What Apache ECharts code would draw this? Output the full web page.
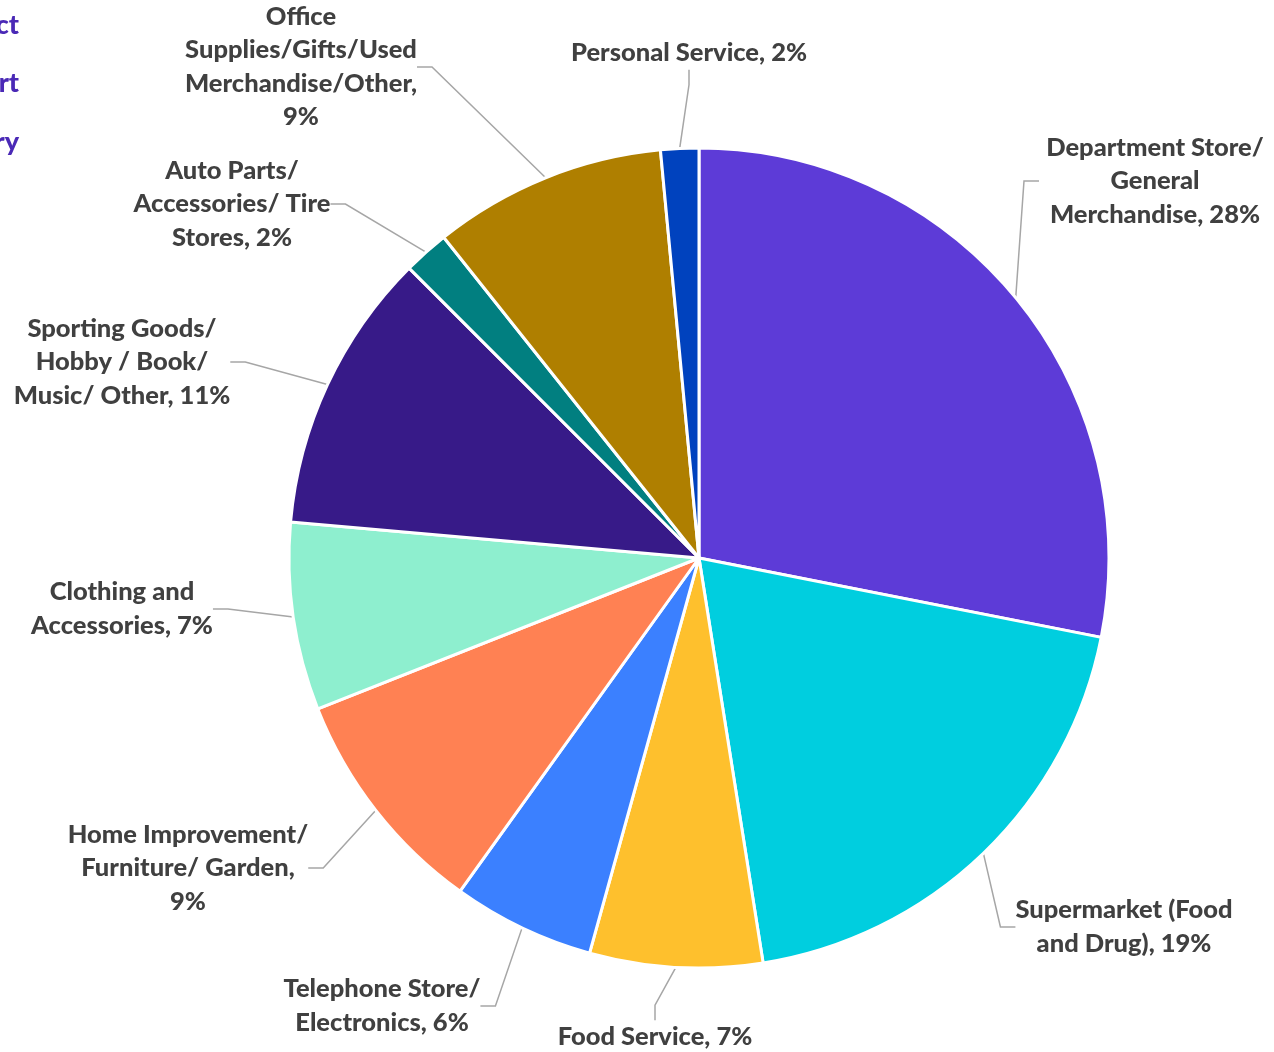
<!DOCTYPE html>
<html>
<head>
<meta charset="utf-8">
<script src="https://cdn.jsdelivr.net/npm/echarts@6/dist/echarts.min.js"></script>
<style>
  html, body { margin: 0; padding: 0; background: #fff; }
  #chart { width: 1274px; height: 1052px; }
</style>
</head>
<body>
<div id="chart"></div>
<script>
// Retail sales share by store type (percent of total)
const categories = [
  'Department Store/\nGeneral\nMerchandise',
  'Supermarket (Food\nand Drug)',
  'Food Service',
  'Telephone Store/\nElectronics',
  'Home Improvement/\nFurniture/ Garden',
  'Clothing and\nAccessories',
  'Sporting Goods/\nHobby / Book/\nMusic/ Other',
  'Auto Parts/\nAccessories/ Tire\nStores',
  'Office\nSupplies/Gifts/Used\nMerchandise/Other',
  'Personal Service'
];
const shares = [28.1, 19.4, 6.8, 5.6, 9.1, 7.4, 11.1, 1.8, 9.2, 1.5];
// labels whose percentage drops to its own line
const pctOnNewLine = [4, 8];
const sliceColors = [
  '#5D3BD7', '#00CEDF', '#FEC02D', '#3B80FF', '#FF8153',
  '#8EEFCF', '#371A88', '#017F80', '#AF7F00', '#0042BE'
];
// where each label block sits (centre of the text)
const labelCentres = [
  [1155, 181], [1124, 927], [655, 1037], [382, 1006], [188, 868],
  [122, 609], [122, 362], [232, 204], [301, 67], [689, 53]
];
// side menu entries (partly outside the page)
const menuItems = ['Select Product', 'Select Chart', 'Select Category'];

const labelFont = 'Lato';

const chart = echarts.init(document.getElementById('chart'), null, { renderer: 'canvas' });

const pieData = categories.map((name, i) => {
  const item = {
    name: name,
    value: shares[i],
    itemStyle: { color: sliceColors[i] }
  };
  // the right-edge label keeps its full width instead of being truncated
  if (i === 0) item.label = { width: 232 };
  return item;
});

chart.setOption({
  animation: false,
  backgroundColor: '#ffffff',
  graphic: menuItems.map((t, i) => ({
    type: 'text',
    x: 19,
    y: 25 + i * 58.5,
    style: {
      text: t,
      align: 'right',
      verticalAlign: 'middle',
      fill: '#4A29B6',
      font: '900 27px Lato'
    }
  })),
  series: [{
    type: 'pie',
    center: [699, 558],
    radius: [0, 410],
    startAngle: 90,
    clockwise: true,
    data: pieData,
    itemStyle: { borderColor: '#ffffff', borderWidth: 3 },
    label: {
      show: true,
      position: 'outside',
      fontFamily: labelFont,
      fontWeight: 900,
      fontSize: 25.5,
      lineHeight: 33.5,
      color: '#404040',
      align: 'center',
      overflow: 'none',
      formatter: (p) => {
        const pct = Math.round(p.value) + '%';
        return p.name + (pctOnNewLine.includes(p.dataIndex) ? ',\n' : ', ') + pct;
      }
    },
    labelLine: {
      show: true,
      length: 20,
      length2: 15,
      lineStyle: { color: '#A6A6A6', width: 1.5 }
    },
    labelLayout: (params) => {
      const c = labelCentres[params.dataIndex];
      return {
        x: c[0],
        y: c[1],
        align: 'center',
        verticalAlign: 'middle'
      };
    }
  }]
});
</script>
</body>
</html>
